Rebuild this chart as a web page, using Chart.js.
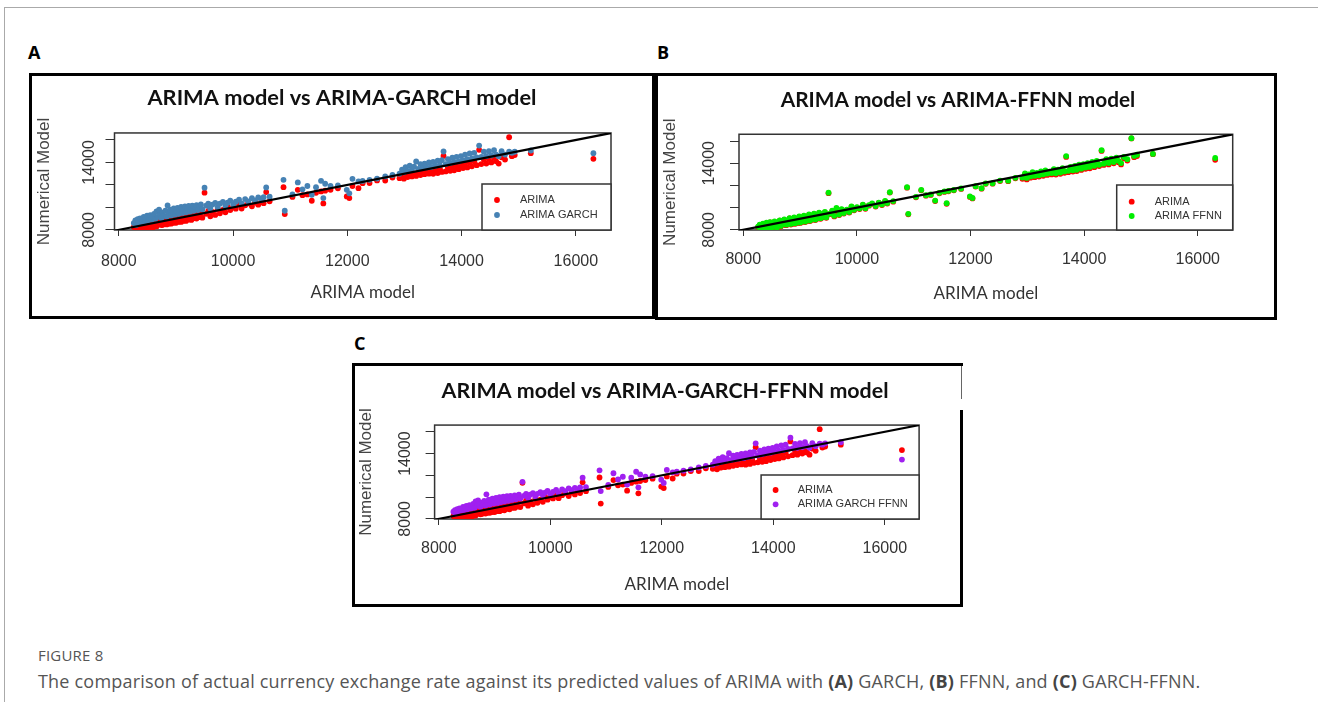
<!DOCTYPE html>
<html lang="en">
<head>
<meta charset="UTF-8">
<title>Figure 8</title>
<script src="https://cdn.jsdelivr.net/npm/chart.js@4.4.6/dist/chart.umd.min.js"></script>
<style>
  body { margin: 0; width: 1318px; height: 702px; position: relative; overflow: hidden; background: #fff; }
  .frame { position: absolute; left: 4px; top: 7px; width: 1400px; height: 800px; border-left: 1px solid #aaa; border-top: 1px solid #aaa; }
  .tag { position: absolute; font: 700 18px 'Open Sans', sans-serif; color: #000; line-height: 18px; }
  .box { position: absolute; border: 3px solid #000; box-sizing: border-box; background: #fff; }
  .box canvas { position: absolute; left: 0; top: 0; }
  .fig { position: absolute; left: 38px; top: 646px; font: 15px 'Open Sans', sans-serif; letter-spacing: 0.2px; color: #555; line-height: 18px; }
  .cap { position: absolute; left: 38px; top: 670px; font: 18px 'Open Sans', sans-serif; letter-spacing: 0.2px; color: #555; line-height: 22px; white-space: nowrap; }
  .cap b { color: #444; }
</style>
</head>
<body>
<div class="frame"></div>

<div class="tag" style="left:28px;top:43px">A</div>
<div class="tag" style="left:657px;top:43px">B</div>
<div class="tag" style="left:354px;top:334px">C</div>

<div class="box" style="left:29px;top:73px;width:626px;height:246px"><canvas id="chartA" width="620" height="240"></canvas></div>
<div class="box" style="left:655px;top:73px;width:622px;height:247px"><canvas id="chartB" width="616" height="241"></canvas></div>
<div class="box" style="left:352px;top:363px;width:611px;height:244px"><canvas id="chartC" width="605" height="238"></canvas></div>
<!-- the scanned panel C has a broken right edge near the top -->
<div style="position:absolute;left:959px;top:366px;width:5px;height:44px;background:#fff"></div>
<div style="position:absolute;left:961px;top:366px;width:1px;height:33px;background:#666"></div>

<div class="fig">FIGURE 8</div>
<div class="cap">The comparison of actual currency exchange rate against its predicted values of ARIMA with <b>(A)</b> GARCH, <b>(B)</b> FFNN, and <b>(C)</b> GARCH-FFNN.</div>

<script>
// actual rate (x) shared by all three panels
const actual = [
  8262, 8290, 8305, 8331, 8348, 8372, 8395, 8410, 8436, 8458, 8471, 8495, 8512, 8530, 8551, 8574, 8590, 8618, 8642, 8660,
  8683, 8705, 8722, 8748, 8770, 8791, 8815, 8838, 8854, 8872, 8896, 8915, 8940, 8962, 8985, 9003, 9027, 9050, 9068, 9091,
  9115, 9132, 9158, 9176, 9201, 9224, 9246, 9270, 9288, 9312, 9335, 9361, 9384, 9410, 9437, 9462, 9501, 9528, 9566, 9602,
  9640, 9688, 9731, 9770, 9822, 9866, 9905, 9951, 10002, 10048, 10105, 10150, 10212, 10268, 10330, 10385, 10441, 10497, 10535, 10580,
  10640, 10883, 10905, 11040, 11133, 11215, 11301, 11378, 11452, 11540, 11580, 11612, 11706, 11835, 11990, 12035, 12090, 12195, 12268, 12389,
  12520, 12663, 12790,
  12914, 12958, 12990, 13020, 13055, 13092, 13130, 13168, 13205, 13241, 13280, 13318, 13352, 13390, 13428, 13467, 13503, 13540, 13582, 13620,
  13655, 13684, 13722, 13760, 13801, 13838, 13870, 13912, 13950, 13988, 14025, 14061, 14100, 14142, 14180, 14221, 14265, 14307, 14345, 14390,
  14432, 14478, 14520, 14568, 14605, 14650, 14700, 14760, 14832, 14880, 14930, 15211, 16307
];

const arima = [
  8240, 8430, 8060, 8320, 8520, 8090, 8450, 8600, 8150, 8510, 8660, 8120, 8530, 8300, 8720, 8370, 8130, 8600, 8820, 8300,
  8680, 8470, 8900, 8420, 8450, 8770, 9020, 8480, 8820, 8550, 9080, 8550, 8880, 8620, 9170, 8620, 8960, 8720, 9240, 8700,
  9070, 8800, 9350, 8790, 9180, 8920, 9420, 8880, 9270, 9020, 9500, 9000, 9360, 9130, 9570, 9080, 11310, 9420, 9680, 9210,
  9600, 9330, 9820, 9470, 9770, 9560, 10070, 9760, 10000, 9880, 10240, 9900, 10180, 10350, 10100, 10420, 10240, 10570, 10370, 11360,
  10540, 11800, 9400, 10930, 11560, 11080, 11150, 10590, 11300, 11420, 10350, 11480, 11560, 11690, 10970, 10830, 11900, 11710, 12150, 12160,
  12400, 12390, 12650,
  12600, 12950, 12550, 12880, 12700, 13080, 12750, 13010, 12800, 13150, 12880, 13250, 12950, 13120, 13000, 13350, 12980, 13300, 13050, 13450,
  13150, 14580, 13200, 13550, 13250, 13650, 13300, 13750, 13400, 13800, 13500, 13900, 13550, 14000, 13650, 14100, 13750, 15120, 13850, 14250,
  13900, 14300, 14000, 14400, 14100, 13900, 14450, 14250, 16240, 14550, 14650, 14820, 14320
];

const garch = [
  8600, 8850, 8420, 8950, 8640, 9020, 8700, 8880, 9150, 8760, 9050, 9260, 8830, 9110, 9300, 8900, 9180, 9420, 8980, 9650,
  9150, 9800, 9350, 9050, 9520, 9250, 9700, 9180, 10170, 9560, 9800, 9280, 9650, 9900, 9350, 9720, 9960, 9420, 9800, 10040,
  9500, 9850, 10080, 9560, 9930, 10120, 9620, 9980, 10150, 9700, 10040, 10200, 9760, 10100, 10260, 9820, 11750, 10150, 10320, 9900,
  10250, 10400, 10020, 10330, 10480, 10150, 10420, 10600, 10250, 10500, 10680, 10360, 10740, 10530, 10820, 10620, 10880, 10680, 10900, 11770,
  10950, 12450, 9700, 11150, 12220, 11600, 11900, 11120, 11800, 12360, 10830, 12100, 11900, 11950, 11560, 11250, 12540, 12310, 12350, 12450,
  12560, 12750, 12880,
  13000, 13350, 13120, 13580, 13250, 13700, 13330, 13620, 14080, 13420, 13850, 13500, 13900, 13560, 14000, 13600, 14050, 13700, 14150, 13760,
  14200, 14970, 13850, 14300, 13950, 14420, 14050, 14500, 14100, 14560, 14200, 14700, 14300, 14800, 14350, 14850, 14450, 15500, 14500, 14950,
  14550, 15000, 14620, 15080, 14700, 14550, 15000, 14700, 14950, 14850, 14950, 15060, 14820
];

const ffnn = [
  8280, 8460, 8110, 8350, 8560, 8140, 8480, 8640, 8200, 8540, 8700, 8170, 8560, 8340, 8760, 8410, 8180, 8640, 8860, 8350,
  8720, 8510, 8940, 8470, 8490, 8810, 9060, 8530, 8860, 8600, 9120, 8600, 8920, 8670, 9210, 8670, 9000, 8770, 9280, 8750,
  9110, 8850, 9390, 8840, 9220, 8970, 9460, 8930, 9310, 9070, 9540, 9050, 9400, 9180, 9610, 9130, 11350, 9460, 9720, 9260,
  9980, 9380, 9860, 9520, 9810, 9610, 10110, 9810, 10040, 9930, 10280, 9950, 10220, 10390, 10150, 10460, 10290, 10610, 10420, 11400,
  10590, 11840, 9440, 10980, 11600, 11120, 11190, 10640, 11340, 11460, 10400, 11520, 11600, 11730, 11010, 10870, 11940, 11750, 12190, 12200,
  12440, 12430, 12690,
  12720, 13080, 12680, 13000, 12820, 13200, 12880, 13130, 12920, 13270, 13000, 13370, 13070, 13240, 13120, 13470, 13100, 13420, 13170, 13570,
  13270, 14650, 13320, 13670, 13370, 13770, 13420, 13870, 13520, 13920, 13620, 14020, 13670, 14120, 13770, 14220, 13870, 15180, 13970, 14370,
  14020, 14420, 14120, 14520, 14220, 14020, 14570, 14370, 16260, 14670, 14770, 14850, 14480
];

const garchFfnn = [
  8650, 8800, 8480, 8900, 8700, 8960, 8760, 8850, 9100, 8810, 9000, 9200, 8880, 9080, 9250, 8950, 9150, 9380, 9020, 9600,
  9200, 9700, 9330, 9100, 9480, 9280, 9660, 9220, 10250, 9530, 9760, 9320, 9620, 9850, 9400, 9690, 9920, 9460, 9770, 9990,
  9540, 9820, 10040, 9600, 9900, 10080, 9660, 9950, 10110, 9740, 10010, 10160, 9800, 10070, 10220, 9860, 11400, 10120, 10290, 9940,
  10220, 10370, 10060, 10300, 10450, 10190, 10400, 10570, 10280, 10480, 10650, 10390, 10710, 10550, 10790, 10640, 10850, 10700, 10880, 11780,
  10920, 12460, 10550, 11130, 12190, 11620, 11870, 11150, 11780, 12330, 10900, 12080, 11880, 11930, 11600, 11300, 12500, 12280, 12330, 12430,
  12540, 12720, 12860,
  12980, 13300, 13100, 13540, 13220, 13660, 13310, 13590, 14040, 13400, 13810, 13480, 13870, 13540, 13960, 13580, 14010, 13680, 14110, 13740,
  14160, 14940, 13830, 14260, 13930, 14380, 14030, 14460, 14080, 14520, 14180, 14660, 14280, 14760, 14330, 14810, 14430, 15460, 14480, 14900,
  14530, 14960, 14600, 15040, 14680, 14530, 14960, 14680, 14920, 14820, 14930, 15040, 13450
];

// y = x reference line
const diagonal = [7900, 16700];
const xTicks = [8000, 10000, 12000, 14000, 16000];
const yTicks = [8000, 10000, 12000, 14000, 16000];
const yTickLabels = [8000, 14000];

const TITLE_FONT = 'Lato, Carlito, sans-serif';
const R_FONT = "'Liberation Sans', Arial, sans-serif";

// R style plot frame
const plotBox = {
  id: 'plotBox',
  beforeDatasetsDraw(chart) {
    const { ctx, chartArea: a } = chart;
    ctx.save();
    ctx.strokeStyle = '#333';
    ctx.lineWidth = 1.5;
    ctx.strokeRect(a.left, a.top, a.right - a.left, a.bottom - a.top);
    ctx.restore();
  }
};

// legend box in the bottom right corner, like legend("bottomright")
const rLegend = {
  id: 'rLegend',
  afterDraw(chart, args, o) {
    const { ctx, chartArea: a } = chart;
    const left = a.right - o.w, top = a.bottom - o.h;
    ctx.save();
    ctx.fillStyle = '#fff';
    ctx.fillRect(left, top, o.w, o.h);
    ctx.strokeStyle = '#333';
    ctx.lineWidth = 1.5;
    ctx.strokeRect(left, top, o.w, o.h);
    ctx.font = '11px ' + R_FONT;
    ctx.textBaseline = 'middle';
    const sets = chart.data.datasets.filter(d => d.type !== 'line').reverse();
    sets.forEach((d, i) => {
      const y = top + o.rows[i];
      ctx.beginPath();
      ctx.arc(left + o.dotX, y, 2.9, 0, Math.PI * 2);
      ctx.fillStyle = d.backgroundColor;
      ctx.fill();
      ctx.fillStyle = '#333';
      ctx.fillText(d.label, left + o.textX, y);
    });
    ctx.restore();
  }
};

function pts(ys) {
  return actual.map((x, i) => ({ x: x, y: ys[i] }));
}

function makePanel(id, title, label, values, color, g) {
  new Chart(document.getElementById(id), {
    type: 'scatter',
    data: {
      datasets: [
        { type: 'line', label: 'y = x', data: diagonal.map(v => ({ x: v, y: v })),
          borderColor: '#000', borderWidth: 2.2, pointRadius: 0, order: 0 },
        { label: label, data: pts(values), backgroundColor: color, pointRadius: 2.9, borderWidth: 0, order: 1 },
        { label: 'ARIMA', data: pts(arima), backgroundColor: '#ff0000', pointRadius: 2.9, borderWidth: 0, order: 2 }
      ]
    },
    options: {
      responsive: false,
      animation: false,
      devicePixelRatio: 1,
      layout: { padding: { left: g.padL || 0, right: g.padR || 0, top: 0, bottom: 0 } },
      scales: {
        x: {
          type: 'linear', min: 7925, max: 16615,
          afterBuildTicks: s => { s.ticks = xTicks.map(v => ({ value: v })); },
          afterFit: s => { s.height = g.xH; },
          border: { display: false },
          grid: { drawOnChartArea: false, drawTicks: true, tickLength: 6, color: '#333' },
          ticks: { autoSkip: false, maxRotation: 0, padding: g.xPad,
                   color: '#333', font: { family: R_FONT, size: 16 }, callback: v => String(v) },
          title: { display: true, text: 'ARIMA model', color: '#333', font: { family: TITLE_FONT, size: 17 },
                   padding: { top: 0, bottom: g.xTitle } }
        },
        y: {
          type: 'linear', min: 7985, max: 16620,
          afterBuildTicks: s => { s.ticks = yTicks.map(v => ({ value: v })); },
          afterFit: s => { s.width = g.yW; },
          border: { display: false },
          grid: { drawOnChartArea: false, drawTicks: true, tickLength: 9, color: '#333' },
          ticks: { autoSkip: false, minRotation: 90, maxRotation: 90,
                   crossAlign: 'center', padding: g.yPad, color: '#333', font: { family: R_FONT, size: 16 },
                   callback: v => yTickLabels.includes(v) ? String(v) : '' },
          title: { display: true, text: 'Numerical Model', color: '#444', font: { family: R_FONT, size: 17 },
                   padding: { top: g.yTitle, bottom: 0 } }
        },
        yRight: {
          type: 'linear', position: 'right', display: true,
          afterFit: s => { s.width = g.rW; },
          border: { display: false }, grid: { display: false }, ticks: { display: false }
        }
      },
      plugins: {
        legend: { display: false },
        tooltip: { enabled: false },
        title: { display: true, text: title, color: '#111', font: { family: TITLE_FONT, size: g.tSize, weight: 'bold' },
                 padding: { top: g.tTop, bottom: g.tBot } },
        rLegend: g.legend
      }
    },
    plugins: [plotBox, rLegend]
  });
}

makePanel('chartA', 'ARIMA model vs ARIMA-GARCH model', 'ARIMA GARCH', garch, '#4682b4', {
  yW: 82.5, rW: 41, xH: 86, xPad: 16.4, xTitle: 12.8, yPad: -6.7, yTitle: 1.8,
  tSize: 21.8, tTop: 8.9, tBot: 21.9,
  legend: { w: 129, h: 46, dotX: 15, textX: 38, rows: [16, 31] }
});
makePanel('chartB', 'ARIMA model vs ARIMA-FFNN model', 'ARIMA FFNN', ffnn, '#00ee00', {
  padR: 16, yW: 81, rW: 25.3, xH: 87, xPad: 14.4, xTitle: 12.8, yPad: -1.8, yTitle: 1.8,
  tSize: 20.8, tTop: 11.5, tBot: 21.8,
  legend: { w: 116, h: 45, dotX: 15, textX: 38, rows: [16.7, 31] }
});
makePanel('chartC', 'ARIMA model vs ARIMA-GARCH-FFNN model', 'ARIMA GARCH FFNN', garchFfnn, '#a020f0', {
  padL: 15, yW: 64.6, rW: 40.9, xH: 85, xPad: 14.4, xTitle: 8.8, yPad: -1.9, yTitle: -13.7,
  tSize: 21.4, tTop: 12.2, tBot: 21.2,
  legend: { w: 158, h: 44, dotX: 14.5, textX: 36.6, rows: [15, 29.3] }
});
</script>
</body>
</html>
